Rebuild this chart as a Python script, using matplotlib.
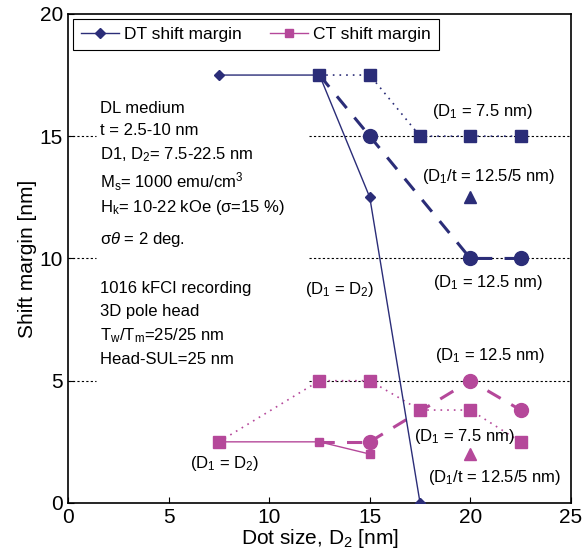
import matplotlib
matplotlib.use("Agg")
import matplotlib.pyplot as plt

plt.rcParams['font.family'] = ['Liberation Sans', 'DejaVu Sans']
plt.rcParams['mathtext.fontset'] = 'custom'
plt.rcParams['mathtext.rm'] = 'Liberation Sans'
plt.rcParams['mathtext.it'] = 'Liberation Sans:italic'

NAVY = "#2b2d78"
MAG = "#b5489a"

# DT shift margin (D1 = D2)
dt_x = [7.5, 12.5, 15, 17.5]
dt_y = [17.5, 17.5, 12.5, 0]
# DT, D1 = 7.5 nm
dt75_x = [12.5, 15, 17.5, 20, 22.5]
dt75_y = [17.5, 17.5, 15, 15, 15]
# DT, D1 = 12.5 nm
dt125_x = [12.5, 15, 20, 22.5]
dt125_y = [17.5, 15, 10, 10]
# DT, D1/t = 12.5/5 nm
dtt_x = [20]
dtt_y = [12.5]

# CT shift margin (D1 = D2)
ct_x = [7.5, 12.5, 15]
ct_y = [2.5, 2.5, 2.0]
# CT, D1 = 7.5 nm
ct75_x = [7.5, 12.5, 15, 17.5, 20, 22.5]
ct75_y = [2.5, 5, 5, 3.8, 3.8, 2.5]
# CT, D1 = 12.5 nm
ct125_x = [12.5, 15, 20, 22.5]
ct125_y = [2.5, 2.5, 5, 3.8]
# CT, D1/t = 12.5/5 nm
ctt_x = [20]
ctt_y = [2.0]

info = ["DL medium", "t = 2.5-10 nm", "D1, D$_\\mathrm{2}$= 7.5-22.5 nm",
        "M$_\\mathrm{s}$= 1000 emu/cm$^\\mathrm{3}$", "H$_\\mathrm{k}$= 10-22 kOe (σ=15 %)",
        "σ$\\theta$ = 2 deg.", "1016 kFCI recording", "3D pole head",
        "T$_\\mathrm{w}$/T$_\\mathrm{m}$=25/25 nm", "Head-SUL=25 nm"]
info_y = [16.15, 15.25, 14.23, 13.13, 12.07, 10.76, 8.79, 7.81, 6.83, 5.85]


def main():
    fig = plt.figure(figsize=(5.85, 5.57), dpi=100)
    ax = fig.add_axes([0.1162, 0.097, 0.8598, 0.878])

    for yv in [5, 10, 15]:
        ax.plot([0, 1.4], [yv, yv], color="black", lw=0.8, ls=(0, (2, 2)), zorder=1)
        ax.plot([12.0, 25], [yv, yv], color="black", lw=0.8, ls=(0, (2, 2)), zorder=1)

    # DT
    ax.plot(dt75_x, dt75_y, color=NAVY, lw=1.2, ls=(0, (1, 3)), marker="s", ms=9, zorder=3)
    ax.plot(dt125_x[1:], dt125_y[1:], color=NAVY, lw=2.2, ls=(0, (5, 4)), marker="o", ms=10, zorder=3)
    ax.plot(dt125_x[:2], dt125_y[:2], color=NAVY, lw=2.2, ls=(0, (5, 4)), zorder=3)
    ax.plot(dtt_x, dtt_y, color=NAVY, ls="none", marker="^", ms=9, zorder=3)
    dt_line, = ax.plot(dt_x, dt_y, color=NAVY, lw=1, marker="D", ms=5, zorder=4)

    # CT
    ax.plot(ct75_x, ct75_y, color=MAG, lw=1.2, ls=(0, (1, 3)), marker="s", ms=9, zorder=3)
    ax.plot(ct125_x[1:], ct125_y[1:], color=MAG, lw=2.2, ls=(0, (5, 4)), marker="o", ms=10, zorder=3)
    ax.plot(ct125_x[:2], ct125_y[:2], color=MAG, lw=2.2, ls=(0, (5, 4)), zorder=3)
    ax.plot(ctt_x, ctt_y, color=MAG, ls="none", marker="^", ms=9, zorder=3)
    ct_line, = ax.plot(ct_x, ct_y, color=MAG, lw=1, marker="s", ms=6, zorder=4)

    for s, yv in zip(info, info_y):
        ax.text(1.6, yv, s, fontsize=12, va="center", ha="left")

    notes = [("(D$_\\mathrm{1}$ = 7.5 nm)", 20.6, 16.0),
             ("(D$_\\mathrm{1}$/t = 12.5/5 nm)", 20.9, 13.37),
             ("(D$_\\mathrm{1}$ = D$_\\mathrm{2}$)", 13.5, 8.71),
             ("(D$_\\mathrm{1}$ = 12.5 nm)", 20.9, 9.0),
             ("(D$_\\mathrm{1}$ = 12.5 nm)", 21.0, 6.05),
             ("(D$_\\mathrm{1}$ = 7.5 nm)", 19.7, 2.7),
             ("(D$_\\mathrm{1}$ = D$_\\mathrm{2}$)", 7.8, 1.6),
             ("(D$_\\mathrm{1}$/t = 12.5/5 nm)", 21.2, 1.06)]
    for s, xv, yv in notes:
        ax.text(xv, yv, s, fontsize=12, va="center", ha="center")

    leg = ax.legend([dt_line, ct_line], ["DT shift margin", "CT shift margin"],
                    loc="upper left", ncol=2, fontsize=12.5, fancybox=False,
                    edgecolor="black", framealpha=1, borderaxespad=0.3,
                    handlelength=2.2, columnspacing=1.6, handletextpad=0.3,
                    borderpad=0.45)
    leg.get_frame().set_linewidth(0.8)

    ax.set_xlim(0, 25)
    ax.set_ylim(0, 20)
    ax.set_xticks([0, 5, 10, 15, 20, 25])
    ax.set_yticks([0, 5, 10, 15, 20])
    ax.tick_params(labelsize=15, direction="in", length=4, top=False, right=False)
    ax.set_xlabel("Dot size, D$_\\mathrm{2}$ [nm]", fontsize=15, labelpad=0)
    ax.set_ylabel("Shift margin [nm]", fontsize=15, labelpad=2)
    for sp in ax.spines.values():
        sp.set_linewidth(1.2)

    fig.savefig("out.png", dpi=100)


if __name__ == "__main__":
    main()
